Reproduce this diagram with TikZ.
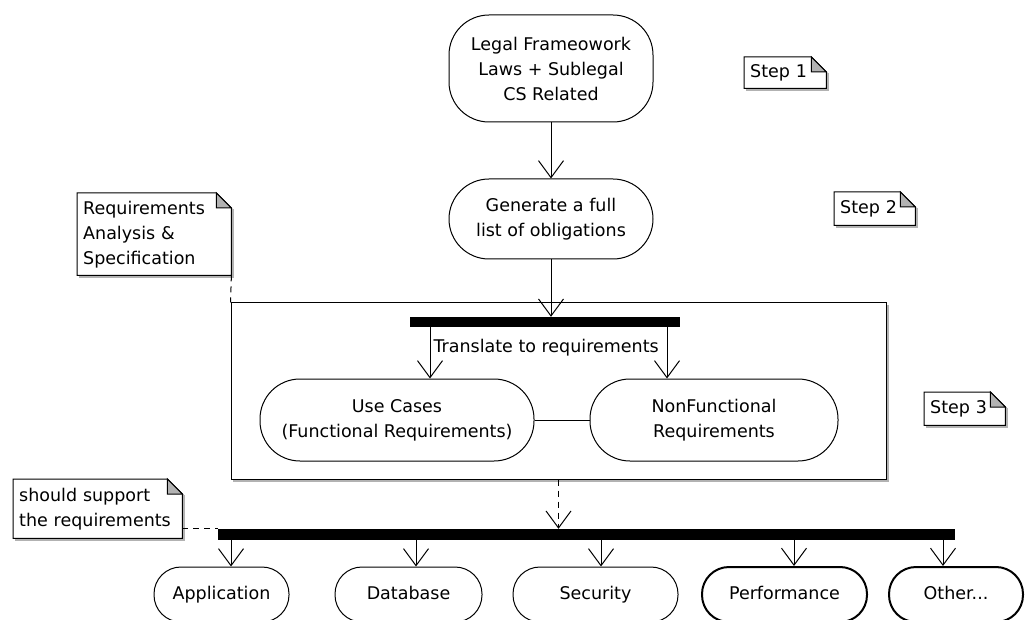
\documentclass[tikz,border=0pt]{standalone}
\usepackage{fontspec}
\setmainfont{DejaVu Sans}
\usetikzlibrary{calc,arrows.meta}
\def\diafont{\fontsize{17.5}{25}\selectfont}
\def\notefold#1{%
	\draw[black!30, line width=1.5pt] ($(#1.north east)+(1.5,16)$) -- ($(#1.south east)+(1.5,1.5)$) -- ($(#1.south west)+(2,1.5)$);
	\draw[line width=1pt] (#1.north west) -- ($(#1.north east)+(-15,0)$) -- ($(#1.north east)+(0,15)$) -- (#1.south east) -- (#1.south west) -- cycle;
	\draw[line width=1pt, fill=black!30] ($(#1.north east)+(-15,0)$) -- ($(#1.north east)+(-15,15)$) -- ($(#1.north east)+(0,15)$) -- cycle;}
\tikzset{
	act/.style={draw, line width=1pt, rounded corners=40pt, align=center, inner sep=0pt},
	part/.style={act, rounded corners=27pt, minimum height=55, text height=13, text depth=4},
	bar/.style={fill=black, inner sep=0pt},
	note/.style={inner xsep=6pt, inner ysep=0pt, align=left, anchor=north west},
	arr/.style={-{Straight Barb[length=17pt, width=25pt]}, line width=1pt},
	dashline/.style={line width=1pt, dash pattern=on 6pt off 5pt}
}

\begin{document}
\begin{tikzpicture}[x=1pt, y=-1pt, font=\diafont]
			%%%%% START %%%%%
			\useasboundingbox (0, 0) rectangle (1031, 620);
			\clip (0, 0) rectangle (1031, 620);
			
			% step 3 frame
			\draw[black!30, line width=1.5pt] (888, 305) -- (888, 481) -- (233, 481);
			\node[draw, line width=1pt, minimum width=655, minimum height=176] (frame) at (558.5, 391) {};
			
			\node[act, minimum width=204, minimum height=107] (legal) at (551, 68.5) {Legal Frameowork\\Laws + Sublegal\\CS Related};
			\node[act, minimum width=204, minimum height=80] (oblig) at (551, 219) {Generate a full\\list of obligations};
			
			\node[bar, minimum width=270, minimum height=10] (fork) at (545, 322) {};
			\node[act, minimum width=274, minimum height=82] (usecase) at (397, 420) {Use Cases\\(Functional Requirements)};
			\node[act, minimum width=248, minimum height=82] (nonfunc) at (714, 420) {NonFunctional\\Requirements};
			
			\node[bar, minimum width=737, minimum height=11] (join) at (586.5, 534.5) {};
			\node[part, minimum width=135] (app) at (221.5, 594.5) {Application};
			\node[part, minimum width=147] (db) at (408.5, 594.5) {Database};
			\node[part, minimum width=165] (sec) at (595.5, 594.5) {Security};
			\node[part, line width=2pt, minimum width=165] (perf) at (784.5, 594.5) {Performance};
			\node[part, line width=2pt, minimum width=134] (other) at (956, 594.5) {Other...};
			
			% notes
			\node[note, text width=142, minimum height=82] (reqnote) at (77, 193) {Requirements\\Analysis \&\\Specification};
			\node[note, text width=157, minimum height=59] (supnote) at (13, 479) {should support\\the requirements};
			\node[note, text width=70, minimum height=31] (step1) at (744, 57) {Step 1};
			\node[note, text width=69, minimum height=33] (step2) at (834, 192) {Step 2};
			\node[note, text width=69, minimum height=33] (step3) at (924, 392) {Step 3};
			\notefold{reqnote}
			\notefold{supnote}
			\notefold{step1}
			\notefold{step2}
			\notefold{step3}
			
			% flows
			\draw[arr] (legal.south) -- (oblig.north);
			\draw[arr] (oblig.south) -- (fork.north -| oblig.south);
			\draw[arr] (fork.south -| 430,0) -- node[right, pos=0.4, inner sep=3pt] (translate) {Translate to requirements} (usecase.north -| 430,0);
			\draw[arr] (fork.south -| 667,0) -- (nonfunc.north -| 667,0);
			\draw[line width=1pt] (usecase.east) -- (nonfunc.west);
			\draw[arr, dashline] (frame.south) -- (join.north -| frame.south);
			\foreach \n/\x in {app/231, db/416, sec/601, perf/794, other/943}
				\draw[arr] (join.south -| \x,0) -- (\n.north -| \x,0);
			
			\draw[dashline] (reqnote.south east) -- (frame.north west);
			\draw[dashline] (supnote.east |- join.north) -- (join.north west);
			%%%%% END %%%%%
		\end{tikzpicture}
\end{document}
